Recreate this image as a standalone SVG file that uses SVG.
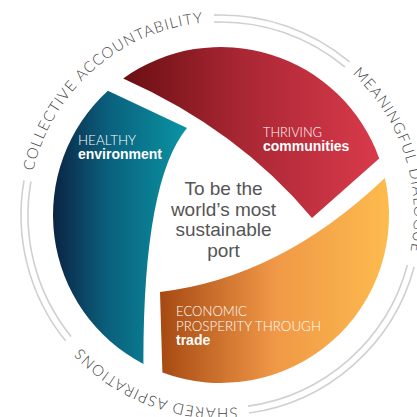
<svg xmlns="http://www.w3.org/2000/svg" width="417" height="417" viewBox="0 0 417 417">
  <style>
    .ring { fill: none; stroke: #d0d0d0; stroke-width: 1.6; }
    .ringtext { font-family: Lato, "Liberation Sans", sans-serif; font-weight: 300; font-size: 15px; fill: #444444; letter-spacing: 1.1px; }
    .lbl { font-family: Lato, "Liberation Sans", sans-serif; font-weight: 300; font-size: 12.8px; fill: #ffffff; }
    .lblb { font-family: "Liberation Sans", Arial, sans-serif; font-size: 14px; font-weight: bold; fill: #ffffff; }
    .center { font-family: "Liberation Sans", Arial, sans-serif; font-size: 19px; fill: #555555; text-anchor: middle; }
  </style>
  <defs>
    <linearGradient id="gTeal" x1="0" y1="0" x2="1" y2="0">
      <stop offset="0" stop-color="#0b2444"/>
      <stop offset="0.4" stop-color="#0a5f7c"/>
      <stop offset="1" stop-color="#0a95a4"/>
    </linearGradient>
    <linearGradient id="gRed" x1="0" y1="0" x2="1" y2="0">
      <stop offset="0" stop-color="#6a0f12"/>
      <stop offset="0.45" stop-color="#a82633"/>
      <stop offset="1" stop-color="#d93a4b"/>
    </linearGradient>
    <linearGradient id="gOrange" x1="0" y1="0" x2="1" y2="0">
      <stop offset="0" stop-color="#a64912"/>
      <stop offset="0.5" stop-color="#f09847"/>
      <stop offset="1" stop-color="#fdbb4d"/>
    </linearGradient>
    <path id="pCollective" d="M 31.54,251.82 A 193 193 0 0 1 283.83,32.51"/>
    <path id="pMeaningful" d="M 261.13,26.22 A 193 193 0 0 1 364.43,344.15"/>
    <path id="pShared" d="M 342.46,364.99 A 193 193 0 0 1 30.37,245.19"/>
  </defs>

  <g id="connectors">
    <g id="ring-lines">
      <path class="ring" d="M 214.26,22.11 A 193 193 0 0 1 345.06,67.16"/>
      <path class="ring" d="M 214.02,15.12 A 200 200 0 0 1 349.56,61.80"/>
      <path class="ring" d="M 407.42,264.95 A 193 193 0 0 1 247.86,406.12"/>
      <path class="ring" d="M 414.18,266.76 A 200 200 0 0 1 248.84,413.06"/>
      <path class="ring" d="M 71.02,336.45 A 193 193 0 0 1 30.93,181.49"/>
      <path class="ring" d="M 65.58,340.86 A 200 200 0 0 1 24.04,180.28"/>
    </g>
  </g>

  <g id="ring-labels">
    <text class="ringtext"><textPath href="#pCollective" startOffset="50%" text-anchor="middle">COLLECTIVE ACCOUNTABILITY</textPath></text>
    <text class="ringtext"><textPath href="#pMeaningful" startOffset="50%" text-anchor="middle">MEANINGFUL DIALOGUE</textPath></text>
    <text class="ringtext"><textPath href="#pShared" startOffset="50%" text-anchor="middle">SHARED ASPIRATIONS</textPath></text>
  </g>

  <g id="healthy-environment">
    <path fill="url(#gTeal)" d="M 143.4,364 A 168 168 0 0 1 107.9,90.8 L 187,128 Q 143,181 143.4,364 Z"/>
    <text class="lbl" x="78" y="145" textLength="58" lengthAdjust="spacingAndGlyphs">HEALTHY</text>
    <text class="lblb" x="78" y="159">environment</text>
  </g>

  <g id="thriving-communities">
    <path fill="url(#gRed)" d="M 123.2,78.4 A 168 168 0 0 1 379.2,158.4 L 312,218 Q 239,130 123.2,78.4 Z"/>
    <text class="lbl" x="263" y="137" textLength="59" lengthAdjust="spacingAndGlyphs">THRIVING</text>
    <text class="lblb" x="263" y="151">communities</text>
  </g>

  <g id="economic-prosperity">
    <path fill="url(#gOrange)" d="M 384.9,178.1 A 168 168 0 0 1 162.4,372.5 L 160,292 Q 280,278 384.9,178.1 Z"/>
    <text class="lbl" x="176" y="316" textLength="71" lengthAdjust="spacingAndGlyphs">ECONOMIC</text>
    <text class="lbl" x="176" y="331" textLength="145" lengthAdjust="spacingAndGlyphs">PROSPERITY THROUGH</text>
    <text class="lblb" x="176" y="345">trade</text>
  </g>

  <g id="center">
    <text class="center" x="223.5" y="195">To be the</text>
    <text class="center" x="223.5" y="215.5">world’s most</text>
    <text class="center" x="223.5" y="236">sustainable</text>
    <text class="center" x="223.5" y="256.5">port</text>
  </g>
</svg>
